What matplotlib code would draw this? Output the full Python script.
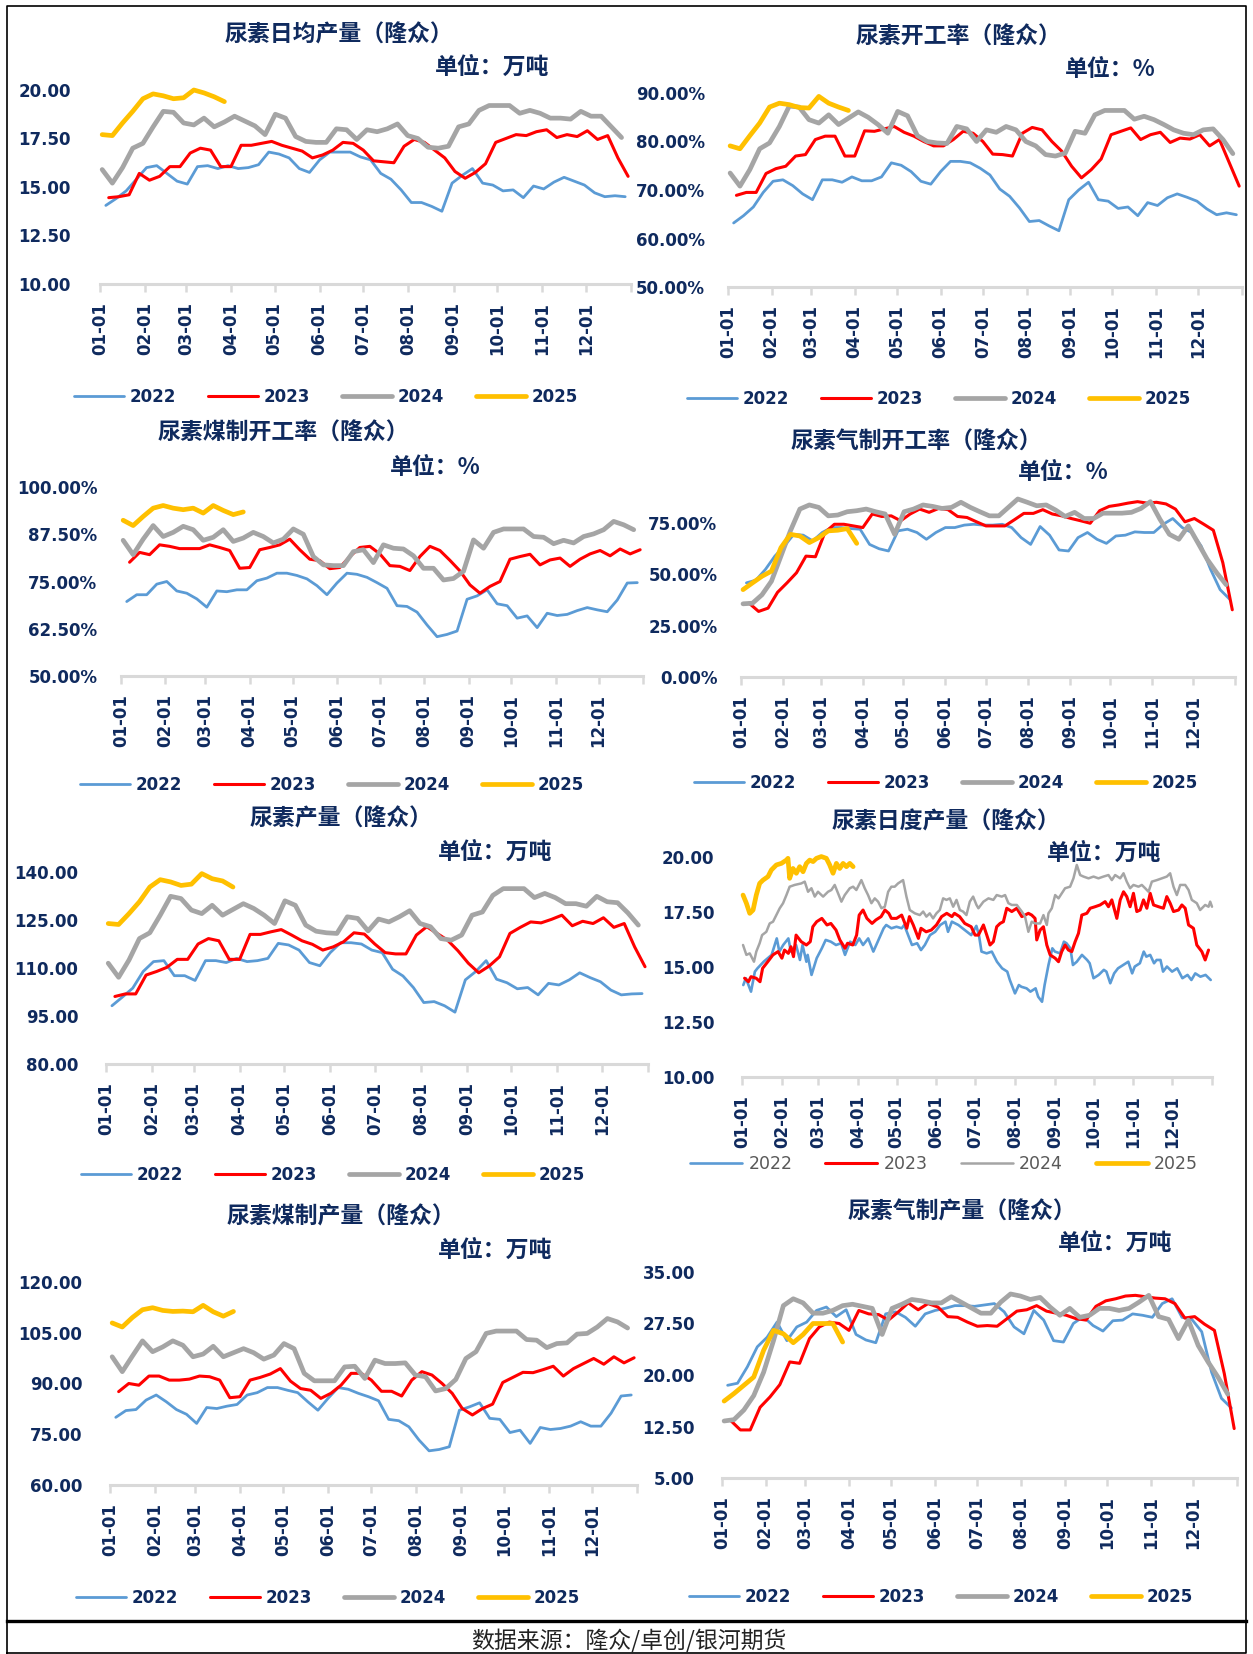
import matplotlib
matplotlib.use("Agg")
import matplotlib.pyplot as plt
import numpy as np

# ---------------- data ----------------
years = ["2022", "2023", "2024", "2025"]
colors = {"2022": "#5B9BD5", "2023": "#FF0000", "2024": "#A5A5A5", "2025": "#FFC000"}
week_start_day = {"2022": 4, "2023": 6, "2024": 1.5, "2025": 1.5}
month_days = [0, 31, 59, 90, 120, 151, 181, 212, 243, 273, 304, 334, 365]
month_labels = ["01-01", "02-01", "03-01", "04-01", "05-01", "06-01", "07-01",
                "08-01", "09-01", "10-01", "11-01", "12-01", ""]

# 尿素日均产量 (万吨)
avg22 = [14.05,14.4,14.8,15.4,16.0,16.1,15.7,15.3,15.15,16.05,16.1,15.95,16.1,15.95,16.0,16.15,16.8,16.7,16.5,15.95,
         15.75,16.4,16.8,16.8,16.8,16.55,16.4,15.7,15.4,14.85,14.2,14.2,14.0,13.75,15.2,15.6,15.95,15.2,15.1,14.8,
         14.85,14.45,15.05,14.9,15.25,15.5,15.3,15.1,14.7,14.5,14.55,14.5]
avg23 = [14.45,14.5,14.6,15.7,15.35,15.55,16.05,16.05,16.75,17.0,16.9,16.05,16.05,17.15,17.15,17.25,17.35,17.15,17.0,16.85,
         16.5,16.65,16.9,17.3,17.25,16.9,16.35,16.3,16.25,17.1,17.45,17.3,16.9,16.5,15.8,15.45,15.75,16.2,17.3,17.5,
         17.7,17.65,17.85,17.95,17.55,17.7,17.6,17.9,17.45,17.65,16.5,15.55]
avg24 = [15.9,15.2,16.0,17.0,17.25,18.1,18.9,18.85,18.3,18.2,18.55,18.1,18.35,18.65,18.4,18.15,17.7,18.75,18.55,17.6,
         17.35,17.3,17.3,18.0,17.95,17.45,17.95,17.85,18.0,18.25,17.65,17.5,17.05,17.0,17.1,18.1,18.25,18.95,19.2,19.2,
         19.2,18.8,18.95,18.8,18.55,18.55,18.5,18.9,18.65,18.65,18.1,17.55]
avg25 = [17.7,17.65,18.3,18.9,19.55,19.8,19.7,19.55,19.6,20.0,19.85,19.65,19.4]

# 尿素开工率 (%)
rate22 = [63.2,64.7,66.5,69.5,71.8,72.1,70.9,69.2,68.0,72.1,72.1,71.6,72.7,71.9,71.9,72.7,75.6,75.1,73.8,71.8,
          71.2,73.8,75.9,75.9,75.6,74.5,73.1,70.2,68.7,66.3,63.5,63.7,62.6,61.6,68.0,70.0,71.6,68.0,67.7,66.2,
          66.5,64.7,67.4,66.8,68.4,69.2,68.5,67.7,66.1,64.9,65.3,64.9]
rate23 = [68.9,69.5,69.5,73.4,74.4,74.9,77.0,77.3,80.4,81.1,81.1,77.0,77.0,82.2,82.1,82.6,83.1,81.9,81.1,80.0,
          79.1,79.1,80.4,82.1,81.7,80.0,77.4,77.3,77.0,81.7,82.9,82.4,80.0,78.0,74.9,72.5,74.2,76.4,81.4,82.1,
          82.8,80.4,81.4,81.9,79.8,80.7,80.5,81.4,79.1,80.4,75.6,70.8]
rate24 = [73.5,70.8,74.2,78.5,79.7,83.1,87.3,87.1,84.5,83.8,85.5,83.5,84.8,86.1,85.0,83.5,81.7,86.2,85.3,81.2,
          80.0,79.7,79.6,83.1,82.6,80.0,82.4,81.9,83.1,82.4,80.0,79.1,77.3,77.0,77.6,82.1,81.7,85.5,86.4,86.4,
          86.4,84.6,85.2,84.5,83.5,82.4,81.7,81.4,82.4,82.6,80.4,77.5]
rate25 = [79.1,78.5,81.2,83.8,87.1,87.9,87.6,87.0,86.9,89.3,87.9,87.1,86.4]

# 尿素煤制开工率 (%)
coal_rate22 = [69.7,71.5,71.5,74.3,75.0,72.5,71.9,70.4,68.2,72.5,72.3,72.8,72.8,75.2,75.9,77.2,77.2,76.6,75.7,73.9,
               71.5,74.6,77.2,76.9,76.1,74.7,73.2,68.6,68.4,66.9,63.5,60.4,61.0,61.9,70.3,71.2,72.8,69.1,68.6,65.3,
               65.9,62.8,66.6,66.0,66.3,67.3,68.1,67.5,67.0,70.1,74.6,74.7]
coal_rate23 = [80.1,82.7,82.1,84.7,84.3,83.7,83.7,83.7,84.7,84.0,83.2,78.5,78.7,83.4,84.0,84.7,86.2,83.4,80.9,80.5,
               78.4,78.7,81.6,84.0,84.3,82.3,79.2,79.0,77.9,81.6,84.3,83.2,80.6,77.8,74.1,71.9,73.7,75.0,80.9,81.6,
               82.2,79.4,80.7,81.2,79.0,80.9,82.3,83.2,81.8,83.6,82.3,83.4]
coal_rate24 = [85.9,82.1,86.2,89.8,86.9,88.0,89.6,88.7,85.9,86.7,88.7,85.6,86.5,88.0,86.9,85.2,86.2,88.9,87.5,81.6,
               79.4,79.2,79.2,82.9,83.4,80.0,84.7,83.8,83.6,81.8,78.5,78.5,75.4,75.8,77.7,86.0,83.8,88.0,88.9,88.9,
               88.9,86.9,86.7,85.0,85.9,85.2,86.9,87.6,88.7,90.9,90.0,88.7]
coal_rate25 = [91.2,89.8,92.2,94.4,95.1,94.4,94.0,94.4,93.1,95.1,93.8,92.7,93.4]

# 尿素气制开工率 (%)
gas_rate22 = [45.8,47.1,52.3,58.8,63.7,69.4,69.0,66.2,70.3,72.7,72.7,72.2,71.9,64.5,62.4,61.3,71.1,71.9,70.3,67.0,
              70.3,72.7,72.7,73.9,74.3,73.9,73.9,74.3,72.7,67.8,64.5,73.2,69.0,61.8,61.3,67.8,70.3,67.0,65.0,68.6,
              69.0,70.6,70.3,70.3,74.3,77.1,72.7,70.3,63.7,52.3,42.5,37.9]
gas_rate23 = [35.9,31.9,33.5,41.2,45.8,50.7,58.8,58.5,70.3,74.3,74.3,73.5,72.7,79.3,78.1,78.4,76.0,79.3,81.7,80.1,
              82.0,81.4,78.1,77.6,75.5,73.5,73.5,73.5,76.5,79.6,79.6,81.4,79.3,78.4,77.1,76.0,74.8,80.9,83.0,83.7,
              84.6,85.3,84.6,85.0,84.2,81.7,75.5,77.1,74.3,71.4,55.6,32.7]
gas_rate24 = [35.6,35.9,40.0,46.6,58.8,71.1,81.7,83.7,82.5,78.4,78.8,80.4,80.9,81.7,80.4,79.3,69.4,80.4,81.7,83.7,
              83.0,82.0,82.5,85.0,82.5,80.4,78.4,78.4,82.5,86.6,85.0,83.3,83.7,81.2,78.1,80.1,77.1,77.1,79.7,79.7,
              79.7,80.1,82.0,85.3,76.8,69.4,67.0,73.5,65.4,57.2,50.7,44.9]
gas_rate25 = [42.5,45.8,49.0,51.5,62.9,69.4,68.6,65.4,67.8,71.1,71.4,72.2,65.0]

# 尿素产量 (万吨)
out22 = [98.2,100.9,103.7,108.9,112.0,112.3,107.6,107.6,106.1,112.3,112.3,111.7,113.0,112.0,112.3,113.0,117.7,117.2,115.6,111.7,
         110.7,114.8,117.9,117.9,117.5,115.6,114.8,109.6,107.5,103.9,99.2,99.5,98.2,96.2,106.3,108.9,112.3,106.5,105.4,103.5,
         103.9,101.6,105.2,104.7,106.3,108.5,107.0,105.7,103.1,101.6,101.9,102.0]
out23 = [101.1,101.9,101.9,107.8,108.9,110.2,112.7,112.7,117.5,119.2,118.5,112.7,112.7,120.5,120.5,121.3,122.0,120.3,118.5,117.4,
         115.6,116.6,118.2,121.0,120.6,117.5,114.8,114.4,114.4,120.3,122.9,120.8,118.7,115.4,111.5,108.5,110.6,113.5,120.8,122.7,
         124.4,124.1,125.2,126.5,123.2,124.6,123.9,125.7,122.7,123.9,116.6,110.4]
out24 = [111.5,107.1,112.5,119.2,121.0,126.5,132.4,131.7,128.1,127.0,129.6,126.5,128.3,130.1,128.6,126.5,123.9,131.0,129.6,123.4,
         121.5,121.0,120.8,126.0,125.5,121.6,125.3,124.4,126.0,127.9,123.9,122.9,119.2,118.7,120.3,126.5,127.5,132.7,134.8,134.8,
         134.8,132.0,133.3,132.0,130.1,130.1,129.3,132.4,130.7,130.4,127.2,123.4]
out25 = [123.9,123.6,127.0,130.7,135.3,137.6,136.9,135.8,136.2,139.5,137.9,137.2,135.3]

# 尿素日度产量 (万吨), daily readings (day of year, value)
daily22_day = [1,3,7,10,12,17,23,27,29,32,36,38,42,45,47,50,51,54,58,62,65,69,73,77,80,84,88,91,94,98,
               102,106,110,112,116,120,124,126,129,132,136,139,142,146,150,154,158,160,163,168,173,178,182,184,186,190,194,198,202,206,
               208,212,215,217,221,224,228,230,233,235,238,241,243,247,250,252,255,257,260,264,268,270,273,277,281,283,286,289,292,296,
               300,303,305,309,312,314,317,320,322,325,327,330,334,338,342,346,349,352,356,360,364]
daily22 = [14.18,14.49,13.88,14.79,14.94,15.25,15.55,16.3,15.7,16.0,16.3,15.7,16.0,15.32,16.0,15.24,15.55,14.64,15.4,15.85,
           16.23,16.15,16.0,16.08,15.55,16.15,16.0,16.3,16.0,16.3,15.7,16.23,16.76,16.91,16.76,16.83,16.76,16.91,16.45,16.0,
           16.08,15.77,16.0,16.45,16.6,16.91,17.06,16.6,17.06,16.91,16.68,16.45,16.87,16.45,15.7,15.62,15.7,15.24,14.94,14.79,
           14.41,13.8,14.18,14.1,14.03,13.88,14.03,13.65,13.42,14.18,15.09,15.85,15.7,15.62,16.15,16.08,15.85,15.09,15.24,15.55,
           15.32,15.17,14.49,14.64,14.87,14.79,14.26,14.71,14.94,15.09,15.24,14.71,15.02,15.17,15.7,15.47,15.55,15.17,15.32,15.32,
           14.79,15.02,14.79,14.94,14.49,14.64,14.41,14.71,14.56,14.64,14.41]
daily23_day = [2,5,7,11,14,16,20,24,28,31,33,36,38,40,42,46,50,53,55,58,62,66,69,73,76,80,82,86,89,91,
               94,97,101,104,108,111,114,116,120,124,128,130,133,137,139,143,147,151,155,159,163,165,169,173,178,181,
               183.6,187.5,190.1,192.6,195.2,197.8,200.4,203.0,205.6,209.5,213.4,217.3,219.8,222.4,225.0,227.6,228.9,231.5,234.1,236.7,
               239.3,243.2,245.8,248.3,250.9,253.5,256.1,258.7,261.3,263.9,267.8,270.4,274.2,278.1,282.0,284.6,287.2,291.1,293.7,296.3,
               298.8,301.4,304.0,306.6,309.2,311.8,314.4,317.0,319.6,323.5,327.3,329.9,332.5,335.1,339.0,341.6,344.2,346.8,350.6,353.2,
               357.1,359.7,362.3]
daily23 = [14.49,14.33,14.56,14.49,14.33,14.94,15.24,15.55,15.7,15.4,15.77,15.62,15.92,15.47,16.45,16.15,16.0,16.15,16.83,17.06,
           17.21,16.91,16.98,16.68,16.23,15.85,16.08,16.0,16.45,17.36,17.59,17.21,16.98,17.14,17.29,17.59,17.44,17.21,17.21,17.36,
           16.76,17.29,16.91,16.3,16.76,16.6,16.68,16.91,17.29,17.44,17.29,17.44,17.29,16.98,16.83,16.45,
           16.45,16.91,16.45,16.0,16.15,16.83,16.98,17.06,17.67,17.52,17.67,17.29,17.36,17.44,17.36,17.21,16.23,16.68,16.83,16.0,
           15.55,15.4,15.24,15.7,16.0,15.77,15.7,16.15,16.53,17.36,17.44,17.67,17.74,17.82,17.97,17.74,18.05,17.21,18.05,18.42,
           18.2,17.74,18.35,17.52,17.59,18.05,17.67,18.35,17.82,17.74,17.67,18.2,17.9,17.52,17.59,17.82,17.67,16.91,16.76,16.0,
           15.7,15.32,15.77]
daily24_day = [0.8,3.4,6.0,9.3,11.1,13.7,15.6,18.9,21.5,24.1,26.7,29.3,31.9,34.5,37.0,40.9,46.1,48.7,51.3,53.9,
               56.5,59.0,63.0,66.8,69.4,72.0,74.6,77.2,79.8,83.7,86.3,88.8,92.7,95.3,97.9,100.5,103.1,105.7,108.3,110.9,
               113.5,116.0,118.6,121.2,125.1,127.7,130.3,134.2,138.1,140.7,143.2,145.8,148.4,151.0,153.6,156.2,158.8,161.4,164.0,166.6,
               169.2,171.7,174.3,176.9,179.5,182.1,
               183.6,187.5,191.4,195.2,197.8,201.7,204.3,206.9,209.5,213.4,217.3,219.8,222.4,225.0,227.6,231.5,234.1,236.7,238.0,240.6,
               243.2,245.8,248.3,250.9,254.8,257.4,260.0,262.6,265.2,269.1,273.0,276.8,280.7,284.6,287.2,289.8,293.7,296.3,298.8,301.4,
               304.0,307.9,310.5,313.1,315.7,318.3,322.2,326.0,329.9,332.5,335.1,337.7,340.3,344.2,346.8,349.3,353.2,355.8,359.7,362.3,
               363.6,365.0]
daily24 = [16.0,15.55,15.62,15.24,15.7,16.08,16.45,16.6,16.98,17.06,17.36,17.67,17.9,18.27,18.65,18.73,18.8,18.88,18.42,18.58,
           18.2,18.42,18.2,18.42,18.5,18.73,18.35,17.97,18.27,18.58,18.65,18.5,18.95,18.58,18.27,17.9,18.12,17.97,17.67,17.74,
           18.42,18.65,18.65,18.8,18.95,18.2,17.59,17.44,17.36,17.52,17.29,17.44,17.21,17.44,17.59,18.12,18.05,18.12,17.74,18.05,
           17.59,17.52,17.36,17.97,18.2,17.82,
           17.67,17.97,18.12,18.05,18.27,18.2,18.27,17.9,17.82,17.82,17.52,17.29,16.6,17.06,16.98,16.98,17.36,16.91,17.44,17.67,
           18.27,18.12,18.35,18.58,18.65,19.03,19.64,19.18,19.11,19.03,19.11,19.03,19.11,19.18,18.95,19.18,19.03,19.26,18.88,18.58,
           18.73,18.65,18.73,18.58,18.42,18.88,18.95,19.03,19.11,19.26,18.65,18.27,18.73,18.73,18.5,18.05,17.9,17.59,17.82,17.74,
           17.97,17.74]
daily25_day = [0.8,3.4,6.0,8.6,11.1,13.7,16.3,20.2,22.8,26.7,30.6,34.5,35.7,37.0,39.6,42.2,44.8,47.4,50.0,52.6,
               55.2,57.8,61.6,65.5,68.1,70.7,73.3,75.9,78.5,81.1,83.7,86.3]
daily25 = [18.27,17.9,17.44,17.59,18.27,18.8,18.95,19.11,19.41,19.64,19.71,19.86,19.94,19.03,19.48,19.26,19.56,19.33,19.71,19.86,
           19.79,19.94,20.02,19.94,19.64,19.26,19.71,19.48,19.71,19.56,19.71,19.56]

# 尿素煤制产量 (万吨)
coal22 = [80.0,82.0,82.3,85.1,86.6,84.6,82.3,80.9,78.2,82.9,82.6,83.3,83.8,86.6,87.3,88.8,88.8,88.0,87.3,84.6,
          82.1,85.6,88.8,88.3,87.1,86.1,84.9,79.4,79.0,77.2,73.3,70.1,70.5,71.3,82.1,83.1,84.3,79.7,79.4,75.5,
          76.2,72.3,77.0,76.4,76.7,77.4,78.7,77.4,77.4,81.2,86.3,86.6]
coal23 = [87.6,90.0,89.5,92.2,92.2,91.0,91.0,91.3,92.2,92.0,91.0,85.8,86.1,91.0,91.8,92.8,94.4,90.7,88.5,88.0,
          85.6,87.1,89.5,93.0,93.0,91.0,87.7,87.7,86.3,91.0,93.5,92.5,90.0,87.1,82.6,80.7,82.6,83.9,90.3,91.8,
          93.3,93.2,94.1,95.1,92.2,94.4,95.9,97.4,95.7,97.9,96.1,97.6]
coal24 = [97.9,93.5,98.1,102.6,99.4,100.8,102.6,101.3,97.9,98.7,101.0,97.9,99.1,100.3,99.1,97.2,98.4,101.8,100.3,93.0,
          90.8,90.8,90.8,94.9,95.1,91.5,96.9,95.9,95.9,96.1,92.5,92.0,87.8,88.5,91.2,97.4,99.4,104.8,105.5,105.5,
          105.5,103.0,102.8,100.6,101.8,102.0,104.6,104.8,106.7,109.2,108.2,106.4]
coal25 = [107.9,106.7,109.5,111.8,112.4,111.6,111.3,111.4,111.2,113.1,111.2,109.9,111.3]

# 尿素气制产量 (万吨)
gas22 = [18.5,18.8,21.2,24.1,25.5,27.7,25.0,27.0,27.7,29.4,29.9,28.5,29.5,25.9,25.1,24.7,28.9,29.2,28.4,27.1,
         28.9,29.4,29.7,30.1,30.1,30.0,30.2,30.4,29.2,27.0,26.0,29.4,28.0,25.0,24.8,27.5,28.5,27.2,26.4,27.9,
         28.0,28.9,28.7,28.4,30.4,31.1,28.4,28.1,26.3,20.4,16.6,15.2]
gas23 = [13.4,12.0,12.0,15.3,16.8,18.6,21.9,21.7,25.3,27.0,27.7,27.5,26.5,29.4,28.9,28.8,28.0,29.2,30.5,29.5,
         30.4,29.9,28.5,28.4,27.7,27.1,27.2,27.1,28.2,29.3,29.5,30.1,29.3,29.0,28.7,28.2,28.0,30.0,30.8,31.1,
         31.5,31.6,31.4,31.2,31.1,30.4,28.3,28.5,27.4,26.5,20.2,12.2]
gas24 = [13.3,13.5,14.9,17.0,20.4,25.0,30.1,31.1,30.5,29.0,29.0,29.4,30.1,30.3,30.0,29.7,25.9,29.7,30.3,31.0,
         30.8,30.5,30.5,31.4,30.6,29.8,29.0,29.0,30.6,31.8,31.5,31.0,31.3,29.9,28.7,29.7,28.4,28.7,29.7,29.7,
         29.4,29.7,30.6,31.6,28.5,28.1,25.3,28.0,24.3,21.9,19.7,17.2]
gas25 = [16.2,17.3,18.5,19.7,23.6,26.5,26.0,24.7,25.9,27.5,27.5,27.5,24.8]

# ---------------- drawing ----------------
W, H = 1253, 1654
NAVY = "#0F2A5E"
CJK = ["Noto Sans CJK SC", "DejaVu Sans"]
plt.rcParams["font.family"] = ["DejaVu Sans", "Noto Sans CJK SC"]

fig = plt.figure(figsize=(W / 100, H / 100), dpi=100)


def fx(x):
    return x / W


def fy(y):
    return 1 - y / H


def panel(l, r, t, b, ylim, yticks, fmt, series, title, tpos, unit, upos, legpos,
          ypad, daily=False):
    ax = fig.add_axes([fx(l), fy(b), (r - l) / W, (b - t) / H])
    lw_w = {"2022": 2.0, "2023": 2.2, "2024": 3.4, "2025": 3.4}
    lw_d = {"2022": 1.9, "2023": 2.2, "2024": 1.8, "2025": 3.4}
    for yr in years:
        xs, ys = series[yr]
        ax.plot(xs, ys, color=colors[yr], lw=(lw_d if daily else lw_w)[yr],
                solid_joinstyle="round", solid_capstyle="round", label=yr, clip_on=False)
    ax.set_xlim(0, 365)
    ax.set_ylim(*ylim)
    ax.set_yticks(yticks)
    ax.set_yticklabels([fmt(v) for v in yticks])
    ax.set_xticks(month_days)
    ax.set_xticklabels(month_labels)
    for s in ["top", "right", "left"]:
        ax.spines[s].set_visible(False)
    ax.spines["bottom"].set_color("#D9D9D9")
    ax.spines["bottom"].set_linewidth(2.2)
    ax.tick_params(axis="x", direction="out", length=6, width=1.8, color="#D9D9D9",
                   pad=7, labelsize=12, labelcolor=NAVY, labelrotation=90)
    ax.tick_params(axis="y", length=0, pad=ypad, labelsize=12, labelcolor=NAVY)
    for lab in ax.get_xticklabels() + ax.get_yticklabels():
        lab.set_fontweight("bold")
    for lab in ax.get_xticklabels():
        lab.set_rotation(90)
        lab.set_va("top")
        lab.set_ha("center")
    ax.patch.set_alpha(0)
    fig.text(fx(tpos[0]), fy(tpos[1]), title, ha="center", va="center",
             fontsize=16.5, color=NAVY, family=CJK, fontweight="semibold")
    fig.text(fx(upos[0]), fy(upos[1]), unit, ha="center", va="center",
             fontsize=16.5, color=NAVY, family=CJK, fontweight="bold")
    if daily:
        prop = {"size": 12.5, "weight": "normal"}
        lc = "#595959"
    else:
        prop = {"size": 12, "weight": "bold"}
        lc = NAVY
    leg = ax.legend(loc="center", bbox_to_anchor=(fx(legpos[0]), fy(legpos[1])),
                    bbox_transform=fig.transFigure, ncol=4, frameon=False,
                    handlelength=3.0, handletextpad=0.35, columnspacing=1.9,
                    prop=prop, labelcolor=lc, borderaxespad=0, borderpad=0)
    for h in leg.legend_handles:
        h.set_solid_capstyle("round")
    return ax


def weekly(v22, v23, v24, v25):
    out = {}
    for yr, v in zip(years, [v22, v23, v24, v25]):
        out[yr] = (week_start_day[yr] + 7 * np.arange(len(v)), v)
    return out


num2 = lambda v: f"{v:.2f}"
pct2 = lambda v: f"{v:.2f}%"

panel(100, 631, 90, 284, (10, 20), [10, 12.5, 15, 17.5, 20], num2,
      weekly(avg22, avg23, avg24, avg25), "尿素日均产量（隆众）", (339, 35),
      "单位：万吨", (492, 67), (326, 397), 21)

panel(728, 1242, 93, 287, (50, 90), [50, 60, 70, 80, 90], pct2,
      weekly(rate22, rate23, rate24, rate25), "尿素开工率（隆众）", (958, 37),
      "单位：%", (1110, 70), (939, 399), 16.5)

panel(121, 643, 487, 676, (50, 100), [50, 62.5, 75, 87.5, 100], pct2,
      weekly(coal_rate22, coal_rate23, coal_rate24, coal_rate25), "尿素煤制开工率（隆众）", (283, 433),
      "单位：%", (435, 467), (332, 785), 17)

panel(741, 1235, 492, 677, (0, 90), [0, 25, 50, 75], pct2,
      weekly(gas_rate22, gas_rate23, gas_rate24, gas_rate25), "尿素气制开工率（隆众）", (916, 442),
      "单位：%", (1063, 473), (946, 783), 17)

panel(106, 648, 872, 1064, (80, 140), [80, 95, 110, 125, 140], num2,
      weekly(out22, out23, out24, out25), "尿素产量（隆众）", (341, 819),
      "单位：万吨", (495, 852), (333, 1175), 20)

daily_series = {"2022": (daily22_day, daily22), "2023": (daily23_day, daily23),
                "2024": (daily24_day, daily24), "2025": (daily25_day, daily25)}
panel(742, 1212, 857, 1077, (10, 20), [10, 12.5, 15, 17.5, 20], num2,
      daily_series, "尿素日度产量（隆众）", (946, 822),
      "单位：万吨", (1104, 853), (944, 1164), 20, daily=True)

panel(110, 637, 1282, 1485, (60, 120), [60, 75, 90, 105, 120], num2,
      weekly(coal22, coal23, coal24, coal25), "尿素煤制产量（隆众）", (341, 1217),
      "单位：万吨", (495, 1250), (328, 1598), 20)

panel(722, 1237, 1272, 1478, (5, 35), [5, 12.5, 20, 27.5, 35], num2,
      weekly(gas22, gas23, gas24, gas25), "尿素气制产量（隆众）", (962, 1212),
      "单位：万吨", (1115, 1243), (941, 1597), 19.5)

# frame and source
frame = fig.add_axes([0, 0, 1, 1], zorder=-1)
frame.set_xlim(0, W)
frame.set_ylim(H, 0)
frame.axis("off")
frame.plot([7, 7, 1246, 1246, 7], [1653, 6, 6, 1653, 1653], color="black", lw=1.2)
frame.plot([7, 1246], [1621, 1621], color="black", lw=2.4)
fig.text(fx(629), fy(1641), "数据来源：隆众/卓创/银河期货", ha="center", va="center",
         fontsize=16.5, color="#222222", family=CJK)

fig.savefig("out.png", dpi=100)
